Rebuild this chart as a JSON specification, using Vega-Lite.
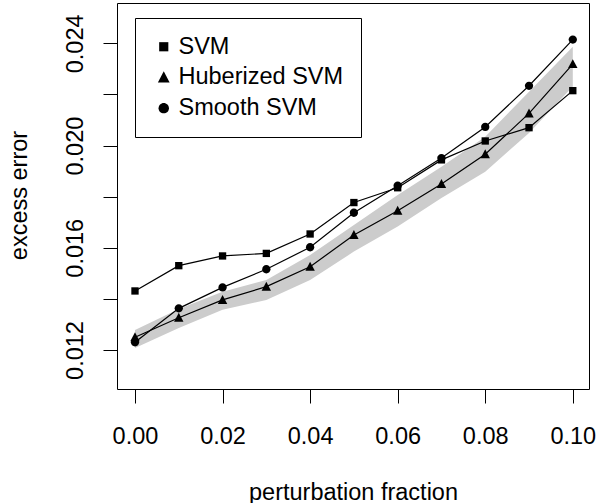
{
  "$schema": "https://vega.github.io/schema/vega-lite/v6.json",
  "width": 472,
  "height": 386,
  "autosize": {"type": "none"},
  "padding": {"left": 117, "top": 3, "right": 8, "bottom": 114},
  "background": "white",
  "datasets": {
    "band": [
      {"x": 0.00, "y": 0.01208, "y_upper": 0.01278},
      {"x": 0.01, "y": 0.01286, "y_upper": 0.01360},
      {"x": 0.02, "y": 0.01357, "y_upper": 0.01428},
      {"x": 0.03, "y": 0.01396, "y_upper": 0.01474},
      {"x": 0.04, "y": 0.01474, "y_upper": 0.01572},
      {"x": 0.05, "y": 0.01585, "y_upper": 0.01689},
      {"x": 0.06, "y": 0.01683, "y_upper": 0.01807},
      {"x": 0.07, "y": 0.01795, "y_upper": 0.01917},
      {"x": 0.08, "y": 0.01898, "y_upper": 0.02035},
      {"x": 0.09, "y": 0.02049, "y_upper": 0.02211},
      {"x": 0.10, "y": 0.02231, "y_upper": 0.02387}
    ],
    "pts": [
      {"x": 0.00, "series": "SVM", "y": 0.01431},
      {"x": 0.01, "series": "SVM", "y": 0.01530},
      {"x": 0.02, "series": "SVM", "y": 0.01568},
      {"x": 0.03, "series": "SVM", "y": 0.01578},
      {"x": 0.04, "series": "SVM", "y": 0.01654},
      {"x": 0.05, "series": "SVM", "y": 0.01777},
      {"x": 0.06, "series": "SVM", "y": 0.01835},
      {"x": 0.07, "series": "SVM", "y": 0.01944},
      {"x": 0.08, "series": "SVM", "y": 0.02018},
      {"x": 0.09, "series": "SVM", "y": 0.02070},
      {"x": 0.10, "series": "SVM", "y": 0.02215},
      {"x": 0.00, "series": "Huberized SVM", "y": 0.01250},
      {"x": 0.01, "series": "Huberized SVM", "y": 0.01326},
      {"x": 0.02, "series": "Huberized SVM", "y": 0.01396},
      {"x": 0.03, "series": "Huberized SVM", "y": 0.01448},
      {"x": 0.04, "series": "Huberized SVM", "y": 0.01526},
      {"x": 0.05, "series": "Huberized SVM", "y": 0.01650},
      {"x": 0.06, "series": "Huberized SVM", "y": 0.01745},
      {"x": 0.07, "series": "Huberized SVM", "y": 0.01850},
      {"x": 0.08, "series": "Huberized SVM", "y": 0.01966},
      {"x": 0.09, "series": "Huberized SVM", "y": 0.02126},
      {"x": 0.10, "series": "Huberized SVM", "y": 0.02319},
      {"x": 0.00, "series": "Smooth SVM", "y": 0.01230},
      {"x": 0.01, "series": "Smooth SVM", "y": 0.01363},
      {"x": 0.02, "series": "Smooth SVM", "y": 0.01445},
      {"x": 0.03, "series": "Smooth SVM", "y": 0.01516},
      {"x": 0.04, "series": "Smooth SVM", "y": 0.01602},
      {"x": 0.05, "series": "Smooth SVM", "y": 0.01737},
      {"x": 0.06, "series": "Smooth SVM", "y": 0.01843},
      {"x": 0.07, "series": "Smooth SVM", "y": 0.01951},
      {"x": 0.08, "series": "Smooth SVM", "y": 0.02073},
      {"x": 0.09, "series": "Smooth SVM", "y": 0.02234},
      {"x": 0.10, "series": "Smooth SVM", "y": 0.02415}
    ]
  },
  "encoding": {
    "x": {
      "field": "x",
      "type": "quantitative",
      "scale": {"domain": [-0.00411, 0.1037], "nice": false, "zero": false},
      "axis": {
        "values": [0, 0.02, 0.04, 0.06, 0.08, 0.1],
        "format": ".2f",
        "domain": false,
        "grid": false,
        "tickSize": 14,
        "tickColor": "black",
        "tickWidth": 1,
        "labelFontSize": 23.5,
        "labelColor": "black",
        "labelPadding": 40.5,
        "labelBaseline": "alphabetic",
        "labelFlush": false,
        "labelOverlap": false,
        "title": "perturbation fraction",
        "titleFontSize": 23.5,
        "titleFontWeight": "normal",
        "titleColor": "black",
        "titleBaseline": "alphabetic",
        "titleX": 236,
        "titleY": 110
      }
    },
    "y": {
      "field": "y",
      "type": "quantitative",
      "scale": {"domain": [0.010473, 0.02558], "nice": false, "zero": false},
      "axis": {
        "values": [0.012, 0.014, 0.016, 0.018, 0.02, 0.022, 0.024],
        "labelExpr": "round(datum.value * 1000) % 4 == 0 ? format(datum.value, '.3f') : ''",
        "domain": false,
        "grid": false,
        "tickSize": 14,
        "tickColor": "black",
        "tickWidth": 1,
        "labelFontSize": 23.5,
        "labelColor": "black",
        "labelAngle": 270,
        "labelAlign": "center",
        "labelBaseline": "alphabetic",
        "labelPadding": 21,
        "labelFlush": false,
        "labelOverlap": false,
        "title": "excess error",
        "titleFontSize": 23.5,
        "titleFontWeight": "normal",
        "titleColor": "black",
        "titleAngle": 270,
        "titleAlign": "center",
        "titleBaseline": "alphabetic",
        "titleX": -91,
        "titleY": 192
      }
    }
  },
  "layer": [
    {
      "data": {"name": "band"},
      "mark": {"type": "area", "color": "#cccccc", "opacity": 1},
      "encoding": {"y2": {"field": "y_upper"}}
    },
    {
      "data": {"name": "pts"},
      "mark": {"type": "line", "color": "black", "strokeWidth": 1.2},
      "encoding": {"detail": {"field": "series", "type": "nominal"}}
    },
    {
      "data": {"name": "pts"},
      "mark": {"type": "point", "filled": true, "color": "black", "opacity": 1, "size": 80},
      "encoding": {
        "shape": {
          "field": "series",
          "type": "nominal",
          "scale": {
            "domain": ["SVM", "Huberized SVM", "Smooth SVM"],
            "range": [
              "M-0.82,-0.82H0.82V0.82H-0.82Z",
              "M0,-1.1L1.05,0.9L-1.05,0.9Z",
              "M-0.93,0A0.93,0.93 0 1,0 0.93,0A0.93,0.93 0 1,0 -0.93,0Z"
            ]
          },
          "legend": {
            "orient": "none",
            "legendX": 18,
            "legendY": 15,
            "title": null,
            "strokeColor": "black",
            "fillColor": "white",
            "padding": 17,
            "labelOffset": 3,
            "rowPadding": 5.7,
            "labelFontSize": 23.5,
            "labelColor": "black",
            "labelLimit": 400,
            "symbolSize": 125,
            "symbolFillColor": "black"
          }
        }
      }
    }
  ],
  "config": {
    "font": "Liberation Sans",
    "view": {"stroke": "black", "strokeWidth": 1}
  }
}
